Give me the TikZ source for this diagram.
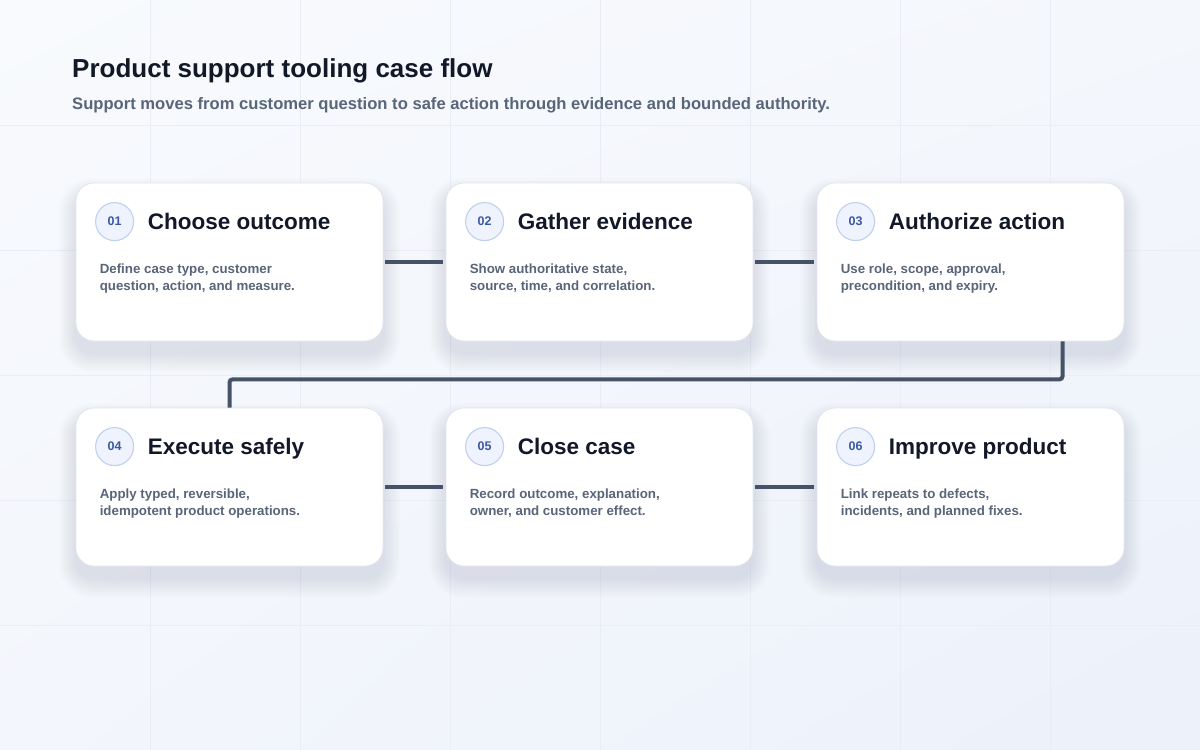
\documentclass[tikz,border=0pt]{standalone}
\usepackage{fontspec}
\setmainfont{Liberation Sans}
\usetikzlibrary{calc,shadings}
\definecolor{bgTL}{HTML}{F8FAFD}
\definecolor{bgTR}{HTML}{F4F7FC}
\definecolor{bgBL}{HTML}{F3F6FC}
\definecolor{bgBR}{HTML}{ECF1FA}
\definecolor{gridc}{HTML}{EAEEF4}
\definecolor{titlec}{HTML}{111827}
\definecolor{subc}{HTML}{596579}
\definecolor{numc}{HTML}{3A58A6}
\definecolor{circfill}{HTML}{EEF3FD}
\definecolor{circline}{HTML}{C0D0EE}
\definecolor{cardline}{HTML}{E1E6EE}
\definecolor{connc}{HTML}{465367}
\definecolor{shadc}{HTML}{8794AE}
\tikzset{
  card/.style={rectangle, draw=cardline, line width=0.8pt, fill=white, rounded corners=18pt,
    minimum width=307pt, minimum height=158pt, inner sep=0pt},
  numcirc/.style={circle, fill=circfill, draw=circline, line width=1.1pt, minimum size=38pt,
    inner sep=0pt, text=numc, font=\fontsize{12.5}{14}\selectfont\bfseries},
  cardtitle/.style={anchor=base west, inner sep=0pt, text=titlec, font=\fontsize{22.5}{26}\selectfont\bfseries},
  carddesc/.style={anchor=base west, inner sep=0pt, text=subc, font=\fontsize{13.3}{17}\selectfont\bfseries},
  conn/.style={draw=connc, line width=4pt},
  gridline/.style={draw=gridc, line width=0.7pt}
}
\newcommand{\stepcard}[7]{%
  \foreach \i in {1,...,12}{%
    \fill[shadc, opacity=0.016, rounded corners=18pt+\i*1.2pt]
      (#2-153.5-\i*1.4, #3-79+12-\i*1.4) rectangle (#2+153.5+\i*1.4, #3+79+12+\i*1.6);
  }%
  \node[card] (#1) at (#2,#3) {};
  \node[numcirc] (#1n) at ($(#1.north west)+(39,39)$) {#4};
  \node[cardtitle] (#1t) at ($(#1.north west)+(72,47)$) {#5};
  \node[carddesc] (#1a) at ($(#1.north west)+(24,91)$) {#6};
  \node[carddesc] (#1b) at ($(#1.north west)+(24,108)$) {#7};
}
\begin{document}
\begin{tikzpicture}[x=1pt,y=-1pt]
\shade[upper left=bgTL, upper right=bgTR, lower left=bgBL, lower right=bgBR] (0,0) rectangle (1200,750);
\useasboundingbox (0,0) rectangle (1200,750);
\foreach \x in {150,300,...,1050} \draw[gridline] (\x,0) -- (\x,750);
\foreach \y in {125,250,...,625} \draw[gridline] (0,\y) -- (1200,\y);

\node[anchor=base west, inner sep=0pt, text=titlec, font=\fontsize{26}{30}\selectfont\bfseries] (title) at (72,77) {Product support tooling case flow};
\node[anchor=base west, inner sep=0pt, text=subc, font=\fontsize{16.6}{20}\selectfont\bfseries] (subtitle) at (72,109) {Support moves from customer question to safe action through evidence and bounded authority.};

\stepcard{c1}{229.5}{262}{01}{Choose outcome}{Define case type, customer}{question, action, and measure.}
\stepcard{c2}{599.5}{262}{02}{Gather evidence}{Show authoritative state,}{source, time, and correlation.}
\stepcard{c3}{970.5}{262}{03}{Authorize action}{Use role, scope, approval,}{precondition, and expiry.}
\stepcard{c4}{229.5}{487}{04}{Execute safely}{Apply typed, reversible,}{idempotent product operations.}
\stepcard{c5}{599.5}{487}{05}{Close case}{Record outcome, explanation,}{owner, and customer effect.}
\stepcard{c6}{970.5}{487}{06}{Improve product}{Link repeats to defects,}{incidents, and planned fixes.}

\draw[conn] ([xshift=2pt]c1.east) -- ([xshift=-3pt]c2.west);
\draw[conn] ([xshift=2pt]c2.east) -- ([xshift=-3pt]c3.west);
\draw[conn] ([xshift=2pt]c4.east) -- ([xshift=-3pt]c5.west);
\draw[conn] ([xshift=2pt]c5.east) -- ([xshift=-3pt]c6.west);
\coordinate (turn) at ($(c3.south)+(92,0)$);
\draw[conn, rounded corners=3pt] (turn) -- ++(0,38) -| (c4.north);
\end{tikzpicture}
\end{document}
